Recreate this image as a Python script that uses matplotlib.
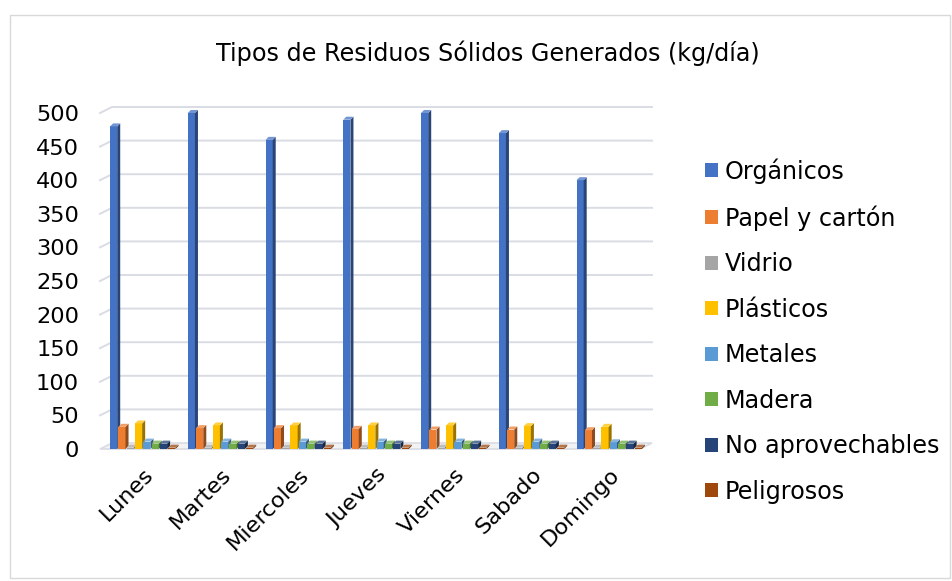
import numpy as np
import matplotlib.pyplot as plt
from matplotlib.patches import Polygon, Rectangle
from matplotlib.colors import to_rgb

dias = ["Lunes", "Martes", "Miercoles", "Jueves", "Viernes", "Sabado", "Domingo"]
organicos = [480, 500, 460, 490, 500, 470, 400]
papel = [33, 31, 31, 30, 29, 29, 28]
vidrio = [2, 2, 2, 2, 2, 2, 2]
plasticos = [38, 35, 35, 35, 35, 34, 33]
metales = [11, 11, 11, 11, 11, 11, 10]
madera = [8, 8, 8, 8, 8, 8, 8]
no_aprov = [8, 8, 8, 8, 8, 8, 8]
peligrosos = [2, 2, 2, 2, 2, 2, 2]

nombres = ["Orgánicos", "Papel y cartón", "Vidrio", "Plásticos", "Metales",
           "Madera", "No aprovechables", "Peligrosos"]
colores = ["#4472C4", "#ED7D31", "#A5A5A5", "#FFC000", "#5B9BD5",
           "#70AD47", "#264478", "#9E480E"]
valores = [organicos, papel, vidrio, plasticos, metales, madera, no_aprov, peligrosos]


def shade(c, f):
    r, g, b = to_rgb(c)
    if f < 1:
        return (r * f, g * f, b * f)
    return (r + (1 - r) * (f - 1), g + (1 - g) * (f - 1), b + (1 - b) * (f - 1))


plt.rcParams['font.family'] = ['DejaVu Sans']

fig = plt.figure(figsize=(9.53, 5.81), dpi=100)
ax = fig.add_axes([100 / 953, 1 - 449 / 581, 552 / 953, 336 / 581])

x = np.arange(len(dias))
pitch = 0.107
face = 0.092
start = -0.428
xmin, xmax = -0.557, 6.543
ax.set_xlim(xmin, xmax)
ax.set_ylim(0, 500)

# depth offsets for the fake 3D look (data units)
ddx, ddy = 0.039, 4.5      # bars
gdx, gdy = 0.154, 8.9      # walls / gridlines
grid_col = "#D9DCE3"

# floor
ax.add_patch(Polygon([(xmin, 0), (xmax - gdx, 0), (xmax, gdy), (xmin + gdx, gdy)],
                     closed=True, facecolor="#F2F2F2", edgecolor=grid_col,
                     linewidth=1.2, zorder=1, clip_on=False))
# gridlines on back wall with slanted side wall part
for v in range(50, 501, 50):
    ax.plot([xmin, xmin + gdx, xmax], [v, v + gdy, v + gdy], color=grid_col,
            linewidth=1.4, zorder=1, clip_on=False)

for i, (name, vals, col) in enumerate(zip(nombres, valores, colores)):
    pos = x + start + i * pitch
    ax.bar(pos, vals, width=face, align="edge", color=col, label=name, zorder=3,
           linewidth=0)
    for p, v in zip(pos, vals):
        side = [(p + face, 0), (p + face + ddx, ddy), (p + face + ddx, v + ddy), (p + face, v)]
        top = [(p, v), (p + ddx, v + ddy), (p + face + ddx, v + ddy), (p + face, v)]
        ax.add_patch(Polygon(side, closed=True, facecolor=shade(col, 0.6),
                             edgecolor="none", zorder=3, clip_on=False))
        ax.add_patch(Polygon(top, closed=True, facecolor=shade(col, 1.25),
                             edgecolor="none", zorder=3, clip_on=False))

ax.set_yticks(range(0, 501, 50))
for s in ax.spines.values():
    s.set_visible(False)
ax.tick_params(axis="both", length=0, labelsize=16.2)
ax.tick_params(axis="y", pad=15)
ax.tick_params(axis="x", pad=11)
ax.set_xticks(x)
ax.set_xticklabels(dias, rotation=45, ha="right", rotation_mode="anchor")

fig.text(0.512, 1 - 61 / 581, "Tipos de Residuos Sólidos Generados (kg/día)",
         ha="center", va="baseline", fontsize=17.2)

handles, labels = ax.get_legend_handles_labels()
fig.legend(handles, labels, loc="center left", bbox_to_anchor=(695 / 953, 1 - 331 / 581),
           frameon=False, fontsize=17.2, handlelength=0.55, handleheight=0.55,
           handletextpad=0.3, labelspacing=0.9, borderaxespad=0)

fig.patches.append(Rectangle((10 / 953, 3 / 581), 940 / 953, 563 / 581,
                             transform=fig.transFigure, fill=False,
                             edgecolor="#D9D9D9", linewidth=1))

fig.savefig("out.png", dpi=100)
